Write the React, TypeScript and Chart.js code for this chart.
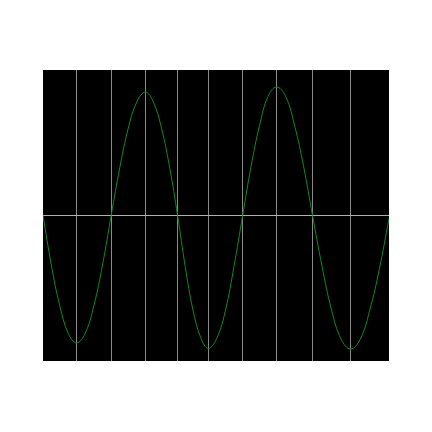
import React, { useEffect, useRef } from "react";
import { Chart, registerables } from "chart.js";

Chart.register(...registerables);

// x positions (arbitrary units 0..100) and signal values
const xValues = [
  0, 2.4, 4.85, 7.3, 9.7,
  12.2, 14.7, 17.2, 19.7,
  22.2, 24.65, 27.1, 29.6,
  31.9, 34.25, 36.6, 38.9,
  41.1, 43.35, 45.6, 47.8,
  50.3, 52.75, 55.2, 57.7,
  60.15, 62.6, 65.05, 67.5,
  70.1, 72.7, 75.3, 77.9,
  80.65, 83.4, 86.15, 88.9,
  91.7, 94.45, 97.2, 100,
];
const signal = [
  0, -0.34, -0.62, -0.81, -0.876,
  -0.81, -0.62, -0.34, 0,
  0.33, 0.6, 0.78, 0.849,
  0.78, 0.6, 0.33, 0,
  -0.35, -0.65, -0.84, -0.914,
  -0.84, -0.65, -0.35, 0,
  0.34, 0.62, 0.82, 0.883,
  0.82, 0.62, 0.34, 0,
  -0.35, -0.65, -0.85, -0.918,
  -0.85, -0.65, -0.37, -0.02,
];
// vertical grid line positions
const xGridTicks = [9.7, 19.7, 29.6, 38.9, 47.8, 57.7, 67.5, 77.9, 88.9];
const yTicks = [-1, 0, 1];

const blackArea = {
  id: "blackArea",
  beforeDraw(chart: any) {
    const { ctx, chartArea } = chart;
    ctx.save();
    ctx.fillStyle = "#000";
    ctx.fillRect(chartArea.left, chartArea.top, chartArea.right - chartArea.left, chartArea.bottom - chartArea.top);
    ctx.restore();
  },
};

export default function App() {
  const ref = useRef<HTMLCanvasElement | null>(null);
  useEffect(() => {
    if (!ref.current) return;
    const chart = new Chart(ref.current, {
      type: "line",
      data: {
        datasets: [
          {
            data: xValues.map((x, i) => ({ x, y: signal[i] })),
            borderColor: "#0a8a2a",
            borderWidth: 1,
            pointRadius: 0,
            tension: 0.4,
            fill: false,
          },
        ],
      },
      options: {
        animation: false,
        responsive: true,
        maintainAspectRatio: false,
        layout: { padding: { left: 35, right: 35, top: 62, bottom: 63 } },
        plugins: { legend: { display: false }, tooltip: { enabled: false } },
        scales: {
          x: {
            type: "linear",
            min: 0,
            max: 100,
            afterBuildTicks: (scale: any) => {
              scale.ticks = xGridTicks.map((v) => ({ value: v }));
            },
            ticks: { display: false },
            grid: { color: "#8a8a8a", drawTicks: false },
            border: { display: false },
          },
          y: {
            type: "linear",
            min: -1,
            max: 1,
            afterBuildTicks: (scale: any) => {
              scale.ticks = yTicks.map((v) => ({ value: v }));
            },
            ticks: { display: false },
            grid: {
              color: (c: any) => (c.tick && c.tick.value === 0 ? "#b0b0b0" : "rgba(0,0,0,0)"),
              drawTicks: false,
            },
            border: { display: false },
          },
        },
      },
      plugins: [blackArea],
    });
    return () => chart.destroy();
  }, []);
  return (
    <div style={{ width: 416, height: 416 }}>
      <canvas ref={ref} />
    </div>
  );
}
